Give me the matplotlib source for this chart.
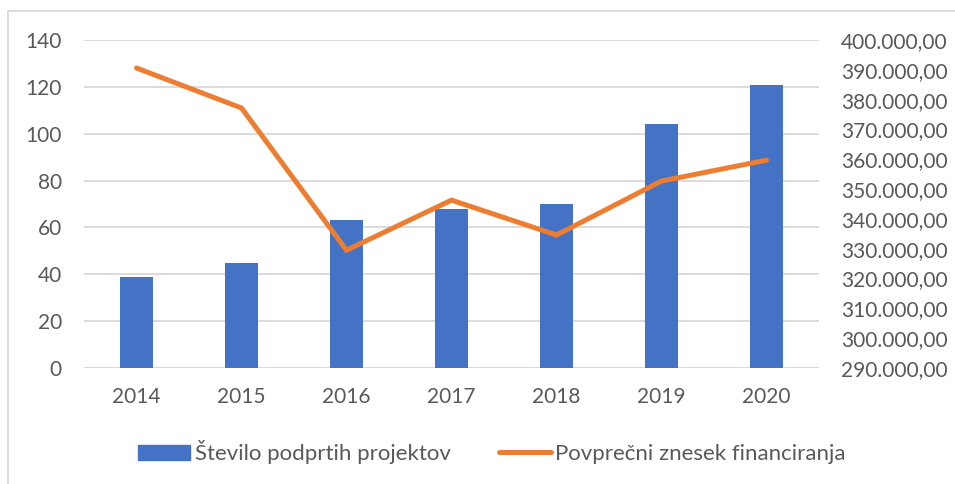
import matplotlib.pyplot as plt
from matplotlib.lines import Line2D

# data
years = ['2014', '2015', '2016', '2017', '2018', '2019', '2020']
projects = [39, 45, 63, 68, 70, 104, 121]
avg_funding = [390600, 377200, 329500, 346300, 334600, 352700, 359700]
left_ticks = [0, 20, 40, 60, 80, 100, 120, 140]
right_ticks = list(range(290000, 400001, 10000))

plt.rcParams['font.family'] = ['Lato', 'DejaVu Sans']
txt = '#595959'
W, H = 955, 484
fs = 15

fig = plt.figure(figsize=(W / 100, H / 100), dpi=100)
ax = fig.add_axes([84 / W, 1 - 368 / H, (819 - 84) / W, (368 - 40) / H])

x = range(len(years))
ax.bar(x, projects, width=0.31, color='#4472C4', zorder=2)
ax.set_xlim(-0.5, len(years) - 0.5)
ax.set_ylim(0, 140)
ax.set_yticks(left_ticks)
ax.set_xticks(list(x))
ax.set_xticklabels(years)
ax.grid(axis='y', color='#d9d9d9', linewidth=1.3, zorder=0)
ax.tick_params(length=0, labelsize=fs, colors=txt)
ax.tick_params(axis='y', pad=16)
ax.tick_params(axis='x', pad=14)
for s in ax.spines.values():
    s.set_visible(False)
ax.axhline(0, color='#d9d9d9', linewidth=1.5, zorder=1)

ax2 = ax.twinx()
ax2.plot(list(x), avg_funding, color='#ED7D31', linewidth=3.6, solid_capstyle='round',
         solid_joinstyle='miter', zorder=3)
ax2.set_ylim(290000, 400000)
ax2.set_yticks(right_ticks)
ax2.set_yticklabels([f'{v:,.2f}'.replace(',', 'X').replace('.', ',').replace('X', '.')
                     for v in right_ticks])
ax2.tick_params(length=0, labelsize=fs, colors=txt, pad=16)
for s in ax2.spines.values():
    s.set_visible(False)

# legend
handles = [plt.Rectangle((0, 0), 1, 1, color='#4472C4'),
           Line2D([0], [0], color='#ED7D31', linewidth=3.6, solid_capstyle='round')]
leg = fig.legend(handles, ['Število podprtih projektov', 'Povprečni znesek financiranja'],
                 loc='center', bbox_to_anchor=(492 / W, 1 - 452 / H), ncol=2,
                 frameon=False, fontsize=16, handlelength=2.35, handleheight=0.68,
                 handletextpad=0.2, columnspacing=2.15)
for t in leg.get_texts():
    t.set_color(txt)

# outer chart border (partially cropped in reference)
fig.add_artist(Line2D([8 / W, 1], [1 - 11 / H, 1 - 11 / H], color='#d9d9d9', linewidth=1.3))
fig.add_artist(Line2D([8 / W, 8 / W], [0, 1 - 11 / H], color='#d9d9d9', linewidth=1.3))

fig.savefig('out.png', dpi=100)
